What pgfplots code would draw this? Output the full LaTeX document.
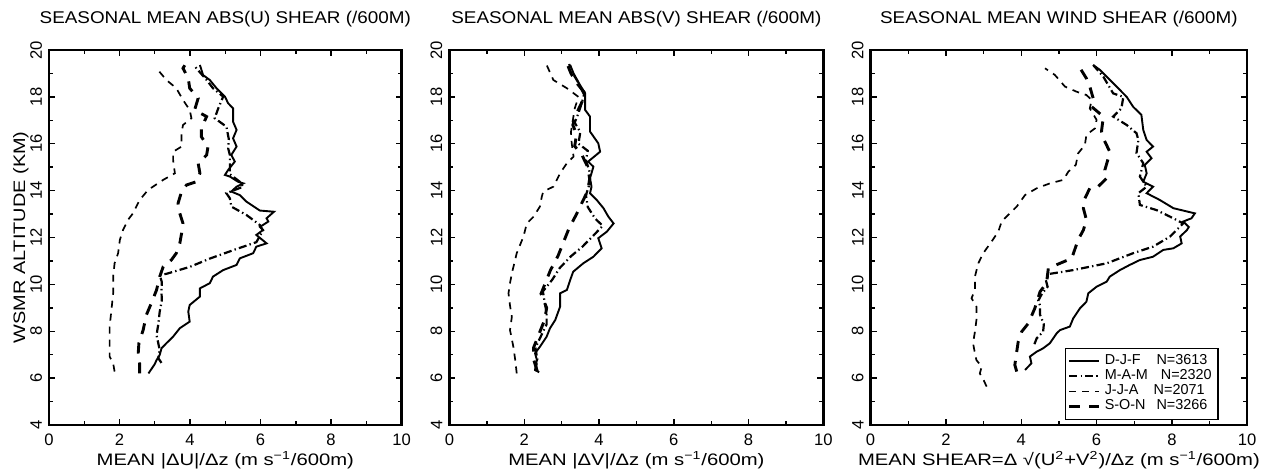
\documentclass[border=0pt]{standalone}
\usepackage{fontspec}
\setmainfont{Liberation Sans}
\newfontfamily\titlefont[FakeStretch=1.11]{Liberation Sans}
\newfontfamily\labelfont[FakeStretch=1.22]{Liberation Sans}
\newfontfamily\ylabfont[FakeStretch=1.2]{Liberation Sans}
\usepackage{pgfplots}
\pgfplotsset{compat=1.18}
\pgfplotsset{
  djf/.style={black, line width=0.95pt, solid},
  mam/.style={black, line width=1.1pt, dash pattern=on 4pt off 1.6pt on 0.7pt off 1.6pt},
  jja/.style={black, line width=0.85pt, dash pattern=on 3.5pt off 3pt},
  son/.style={black, line width=1.45pt, dash pattern=on 5.5pt off 4.5pt},
  panel/.style={
    scale only axis, height=187.5pt,
    xmin=0, xmax=10, ymin=4, ymax=20,
    xtick={0,2,...,10}, ytick={4,6,...,20}, minor tick num=1,
    tick align=inside, major tick length=3pt, minor tick length=2pt,
    axis line style={line width=1.2pt}, every tick/.style={black, line width=0.7pt},
    /pgf/number format/assume math mode=true,
    tick label style={font=\fontsize{8.3}{9}\selectfont},
    yticklabel style={rotate=90, anchor=south, xshift=0pt},
    xticklabel style={yshift=-1pt},
    xlabel style={font=\labelfont\fontsize{8.3}{9}\selectfont, yshift=4pt},
    ylabel style={font=\ylabfont\fontsize{8.3}{9}\selectfont},
    title style={font=\titlefont\fontsize{8.5}{9}\selectfont, at={(0.5,1)}, anchor=base, yshift=7.5pt},
    clip=false,
  },
}
\begin{document}
\begin{tikzpicture}
\useasboundingbox (0,0) rectangle (631pt,234pt);
% ---------------- Panel 1
\begin{axis}[panel, at={(24.5pt,21.5pt)}, anchor=south west, width=176.3pt,
  title={SEASONAL MEAN ABS(U) SHEAR (/600M)},
  xlabel={MEAN |ΔU|/Δz (m s\textsuperscript{−1}/600m)},
  ylabel={WSMR ALTITUDE (KM)}, ylabel style={yshift=-6pt}]
\addplot[djf] coordinates {(2.82,6.2)(3.0,6.6)(3.05,6.77)(3.14,6.99)(3.19,7.27)(3.33,7.49)(3.52,7.77)(3.71,8.13)(3.99,8.41)(3.95,8.84)(3.99,9.12)(4.28,9.48)(4.28,9.83)(4.56,10.05)(4.65,10.33)(4.94,10.61)(5.32,10.83)(5.41,11.11)(5.79,11.33)(5.88,11.61)(6.17,11.75)(5.88,12.11)(6.07,12.32)(5.98,12.45)(6.22,12.68)(6.17,12.82)(6.38,13.1)(5.98,13.15)(5.88,13.25)(5.6,13.53)(5.41,13.81)(5.17,13.96)(5.32,14.17)(5.51,14.31)(5.36,14.38)(5.13,14.6)(4.99,14.67)(5.08,14.88)(5.27,15.24)(5.17,15.52)(5.32,15.88)(5.22,16.23)(5.32,16.59)(5.22,16.94)(5.22,17.51)(5.08,17.73)(4.99,18.01)(4.75,18.37)(4.56,18.72)(4.37,18.93)(4.28,19.36)};
\addplot[mam] coordinates {(3.19,6.65)(3.1,6.85)(3.14,7.2)(3.05,7.84)(3.1,8.3)(3.14,8.84)(3.2,9.3)(3.19,9.7)(3.2,10.1)(3.14,10.4)(3.33,10.45)(4.0,10.75)(4.56,11.1)(5.3,11.5)(5.88,11.8)(6.07,12.3)(5.98,12.53)(5.79,12.75)(5.6,12.96)(5.17,13.32)(5.13,13.67)(5.03,13.89)(5.51,14.17)(5.41,14.38)(5.13,14.7)(5.13,15.1)(5.13,15.52)(5.08,15.81)(5.1,16.2)(5.03,16.73)(4.7,17.09)(4.8,17.51)(4.94,18.01)(4.65,18.37)(4.47,18.72)(4.18,19.22)(4.12,19.35)};
\addplot[jja] coordinates {(1.86,6.28)(1.82,6.63)(1.72,6.92)(1.72,7.63)(1.72,8.2)(1.77,8.9)(1.82,9.62)(1.82,10.33)(1.86,10.9)(1.96,11.33)(2.01,11.9)(2.10,12.32)(2.24,12.75)(2.38,13.03)(2.57,13.6)(2.81,14.03)(3.24,14.46)(3.57,14.74)(3.52,15.31)(3.52,15.66)(3.76,15.88)(3.76,16.45)(3.80,16.8)(4.04,17.09)(3.99,17.44)(3.80,17.87)(3.61,18.37)(3.33,18.72)(3.05,19.22)};
\addplot[son] coordinates {(2.57,6.2)(2.57,6.63)(2.53,7.06)(2.55,7.49)(2.67,8.05)(2.76,8.69)(2.90,9.19)(3.05,9.76)(3.14,10.33)(3.24,10.76)(3.47,11.04)(3.61,11.33)(3.71,11.75)(3.76,12.18)(3.80,12.6)(3.71,13.03)(3.66,13.46)(3.76,13.96)(3.90,14.24)(4.18,14.38)(4.28,14.74)(4.23,15.17)(4.47,15.52)(4.51,15.88)(4.32,16.3)(4.32,16.66)(4.47,17.16)(4.13,17.44)(4.23,17.94)(3.99,18.37)(3.95,18.8)(3.80,19.22)(3.85,19.35)};
\end{axis}
% ---------------- Panel 2
\begin{axis}[panel, at={(224.7pt,21.5pt)}, anchor=south west, width=187pt,
  title={SEASONAL MEAN ABS(V) SHEAR (/600M)},
  xlabel={MEAN |ΔV|/Δz (m s\textsuperscript{−1}/600m)}]
\addplot[djf] coordinates {(2.4,6.25)(2.29,6.35)(2.34,6.77)(2.29,7.06)(2.42,7.34)(2.60,7.77)(2.69,8.13)(2.83,8.48)(2.96,9.05)(2.96,9.62)(3.14,9.76)(3.23,10.19)(3.31,10.54)(3.58,10.9)(3.85,11.18)(4.07,11.54)(3.98,11.97)(4.21,12.25)(4.39,12.6)(4.25,12.89)(4.12,13.25)(3.94,13.6)(3.76,13.89)(3.80,14.17)(3.76,14.53)(3.85,15.02)(3.71,15.24)(4.03,15.66)(3.98,16.02)(3.76,16.52)(3.76,17.16)(3.63,17.44)(3.63,18.15)(3.49,18.51)(3.32,19.0)(3.23,19.36)};
\addplot[mam] coordinates {(2.3,6.3)(2.35,6.8)(2.3,7.3)(2.45,7.8)(2.6,8.3)(2.6,8.8)(2.55,9.2)(2.5,9.7)(2.75,10.2)(2.95,10.7)(3.25,11.2)(3.55,11.6)(3.8,12.0)(4.1,12.5)(3.9,12.8)(3.7,13.3)(3.65,13.8)(3.75,14.3)(3.75,14.8)(3.65,15.3)(3.7,15.7)(3.45,16.0)(3.5,16.5)(3.35,16.9)(3.45,17.3)(3.55,17.8)(3.6,18.1)(3.45,18.6)(3.3,19.0)(3.2,19.4)};
\addplot[jja] coordinates {(1.8,6.2)(1.76,6.77)(1.71,7.34)(1.62,8.05)(1.67,8.62)(1.62,9.1)(1.58,9.62)(1.62,10.05)(1.67,10.47)(1.75,11.0)(1.8,11.33)(1.98,12.04)(2.07,12.6)(2.25,12.89)(2.42,13.32)(2.47,13.74)(2.51,13.96)(2.78,14.17)(2.96,14.74)(3.14,15.17)(3.32,15.45)(3.27,16.02)(3.25,16.5)(3.3,17.0)(3.35,17.5)(3.45,18.0)(3.14,18.37)(2.78,18.72)(2.6,19.36)};
\addplot[son] coordinates {(2.35,6.3)(2.25,6.8)(2.25,7.3)(2.4,7.9)(2.55,8.5)(2.6,9.0)(2.45,9.6)(2.55,10.0)(2.7,10.6)(2.9,11.2)(3.05,11.8)(3.2,12.4)(3.4,13.0)(3.55,13.5)(3.7,14.0)(3.75,14.5)(3.7,15.0)(3.55,15.5)(3.35,15.9)(3.4,16.4)(3.3,16.8)(3.4,17.3)(3.55,17.8)(3.6,18.2)(3.4,18.6)(3.25,19.0)(3.15,19.4)};
\end{axis}
% ---------------- Panel 3
\begin{axis}[panel, at={(435.3pt,21.5pt)}, anchor=south west, width=188.3pt,
  title={SEASONAL MEAN WIND SHEAR (/600M)},
  xlabel={MEAN SHEAR=Δ √(U\textsuperscript{2}+V\textsuperscript{2})/Δz (m s\textsuperscript{−1}/600m)},
  legend style={at={(0.925,0.013)}, anchor=south east, draw=black, line width=0.8pt,
    font=\fontsize{7.2}{8}\selectfont, inner sep=1.2pt, row sep=-3pt},
  legend cell align=left,
  legend image code/.code={\draw[#1] (0pt,0pt) -- (15pt,0pt);}]
\addplot[djf] coordinates {(4.1,6.35)(4.27,6.63)(4.23,6.92)(4.41,7.13)(4.58,7.27)(4.76,7.49)(4.94,7.91)(5.03,8.05)(5.29,8.2)(5.38,8.55)(5.56,8.98)(5.73,9.26)(5.78,9.62)(6.0,9.9)(6.27,10.12)(6.35,10.33)(6.62,10.61)(6.88,10.83)(7.15,11.04)(7.5,11.18)(7.77,11.47)(8.04,11.54)(8.26,11.75)(8.22,12.04)(8.4,12.32)(8.45,12.45)(8.3,12.68)(8.52,12.82)(8.61,13.03)(8.04,13.25)(7.68,13.6)(7.33,13.89)(7.5,14.17)(7.24,14.38)(7.33,14.74)(7.28,15.1)(7.46,15.38)(7.33,15.66)(7.5,15.88)(7.33,16.16)(7.24,16.59)(7.19,17.23)(6.97,17.58)(6.80,18.0)(6.53,18.44)(6.27,18.86)(6.09,19.15)(5.91,19.36)};
\addlegendentry{\makebox[3.6em][l]{D-J-F}N=3613}
\addplot[mam] coordinates {(4.35,7.45)(4.41,7.7)(4.58,7.98)(4.6,8.3)(4.5,8.7)(4.5,9.1)(4.45,9.3)(4.55,9.6)(4.7,9.9)(4.65,10.2)(4.76,10.45)(5.38,10.61)(6.27,10.9)(6.97,11.33)(7.5,11.61)(7.95,12.04)(8.3,12.6)(7.95,12.89)(7.59,13.17)(7.15,13.39)(7.11,13.89)(7.33,14.17)(7.15,14.6)(7.24,15.17)(7.06,15.6)(7.11,16.16)(7.06,16.45)(6.8,16.8)(6.44,17.16)(6.66,17.51)(6.71,18.0)(6.44,18.15)(6.18,18.86)(5.91,19.36)};
\addlegendentry{\makebox[3.9em][l]{M-A-M}N=2320}
\addplot[jja] coordinates {(3.08,5.64)(3.0,5.92)(2.9,6.2)(2.95,6.49)(2.81,6.77)(2.77,7.06)(2.72,7.49)(2.77,7.98)(2.81,8.48)(2.81,9.05)(2.68,9.41)(2.77,9.76)(2.77,10.33)(2.86,10.9)(2.99,11.33)(3.21,11.82)(3.39,12.25)(3.48,12.68)(3.65,12.96)(3.88,13.32)(4.10,13.81)(4.41,14.1)(4.76,14.31)(5.12,14.46)(5.25,14.81)(5.45,15.1)(5.51,15.59)(5.69,15.95)(5.73,16.38)(5.96,16.66)(6.0,17.02)(5.82,17.51)(5.87,17.87)(5.73,18.08)(5.47,18.22)(5.16,18.44)(4.89,18.94)(4.63,19.22)};
\addlegendentry{\makebox[3.4em][l]{J-J-A}N=2071}
\addplot[son] coordinates {(3.88,6.28)(3.83,6.56)(3.88,7.13)(3.92,7.56)(4.01,7.98)(4.19,8.34)(4.36,8.98)(4.5,9.69)(4.67,10.05)(4.72,10.69)(5.03,10.9)(5.34,11.11)(5.51,11.9)(5.65,12.32)(5.73,12.75)(5.65,13.25)(5.69,13.67)(5.82,14.1)(6.04,14.17)(6.27,14.53)(6.22,14.88)(6.31,15.38)(6.35,15.66)(6.18,16.23)(6.13,16.52)(6.18,17.16)(5.87,17.58)(5.91,17.94)(5.82,18.44)(5.73,18.79)(5.51,19.36)};
\addlegendentry{\makebox[3.6em][l]{S-O-N}N=3266}
\end{axis}
\end{tikzpicture}
\end{document}
